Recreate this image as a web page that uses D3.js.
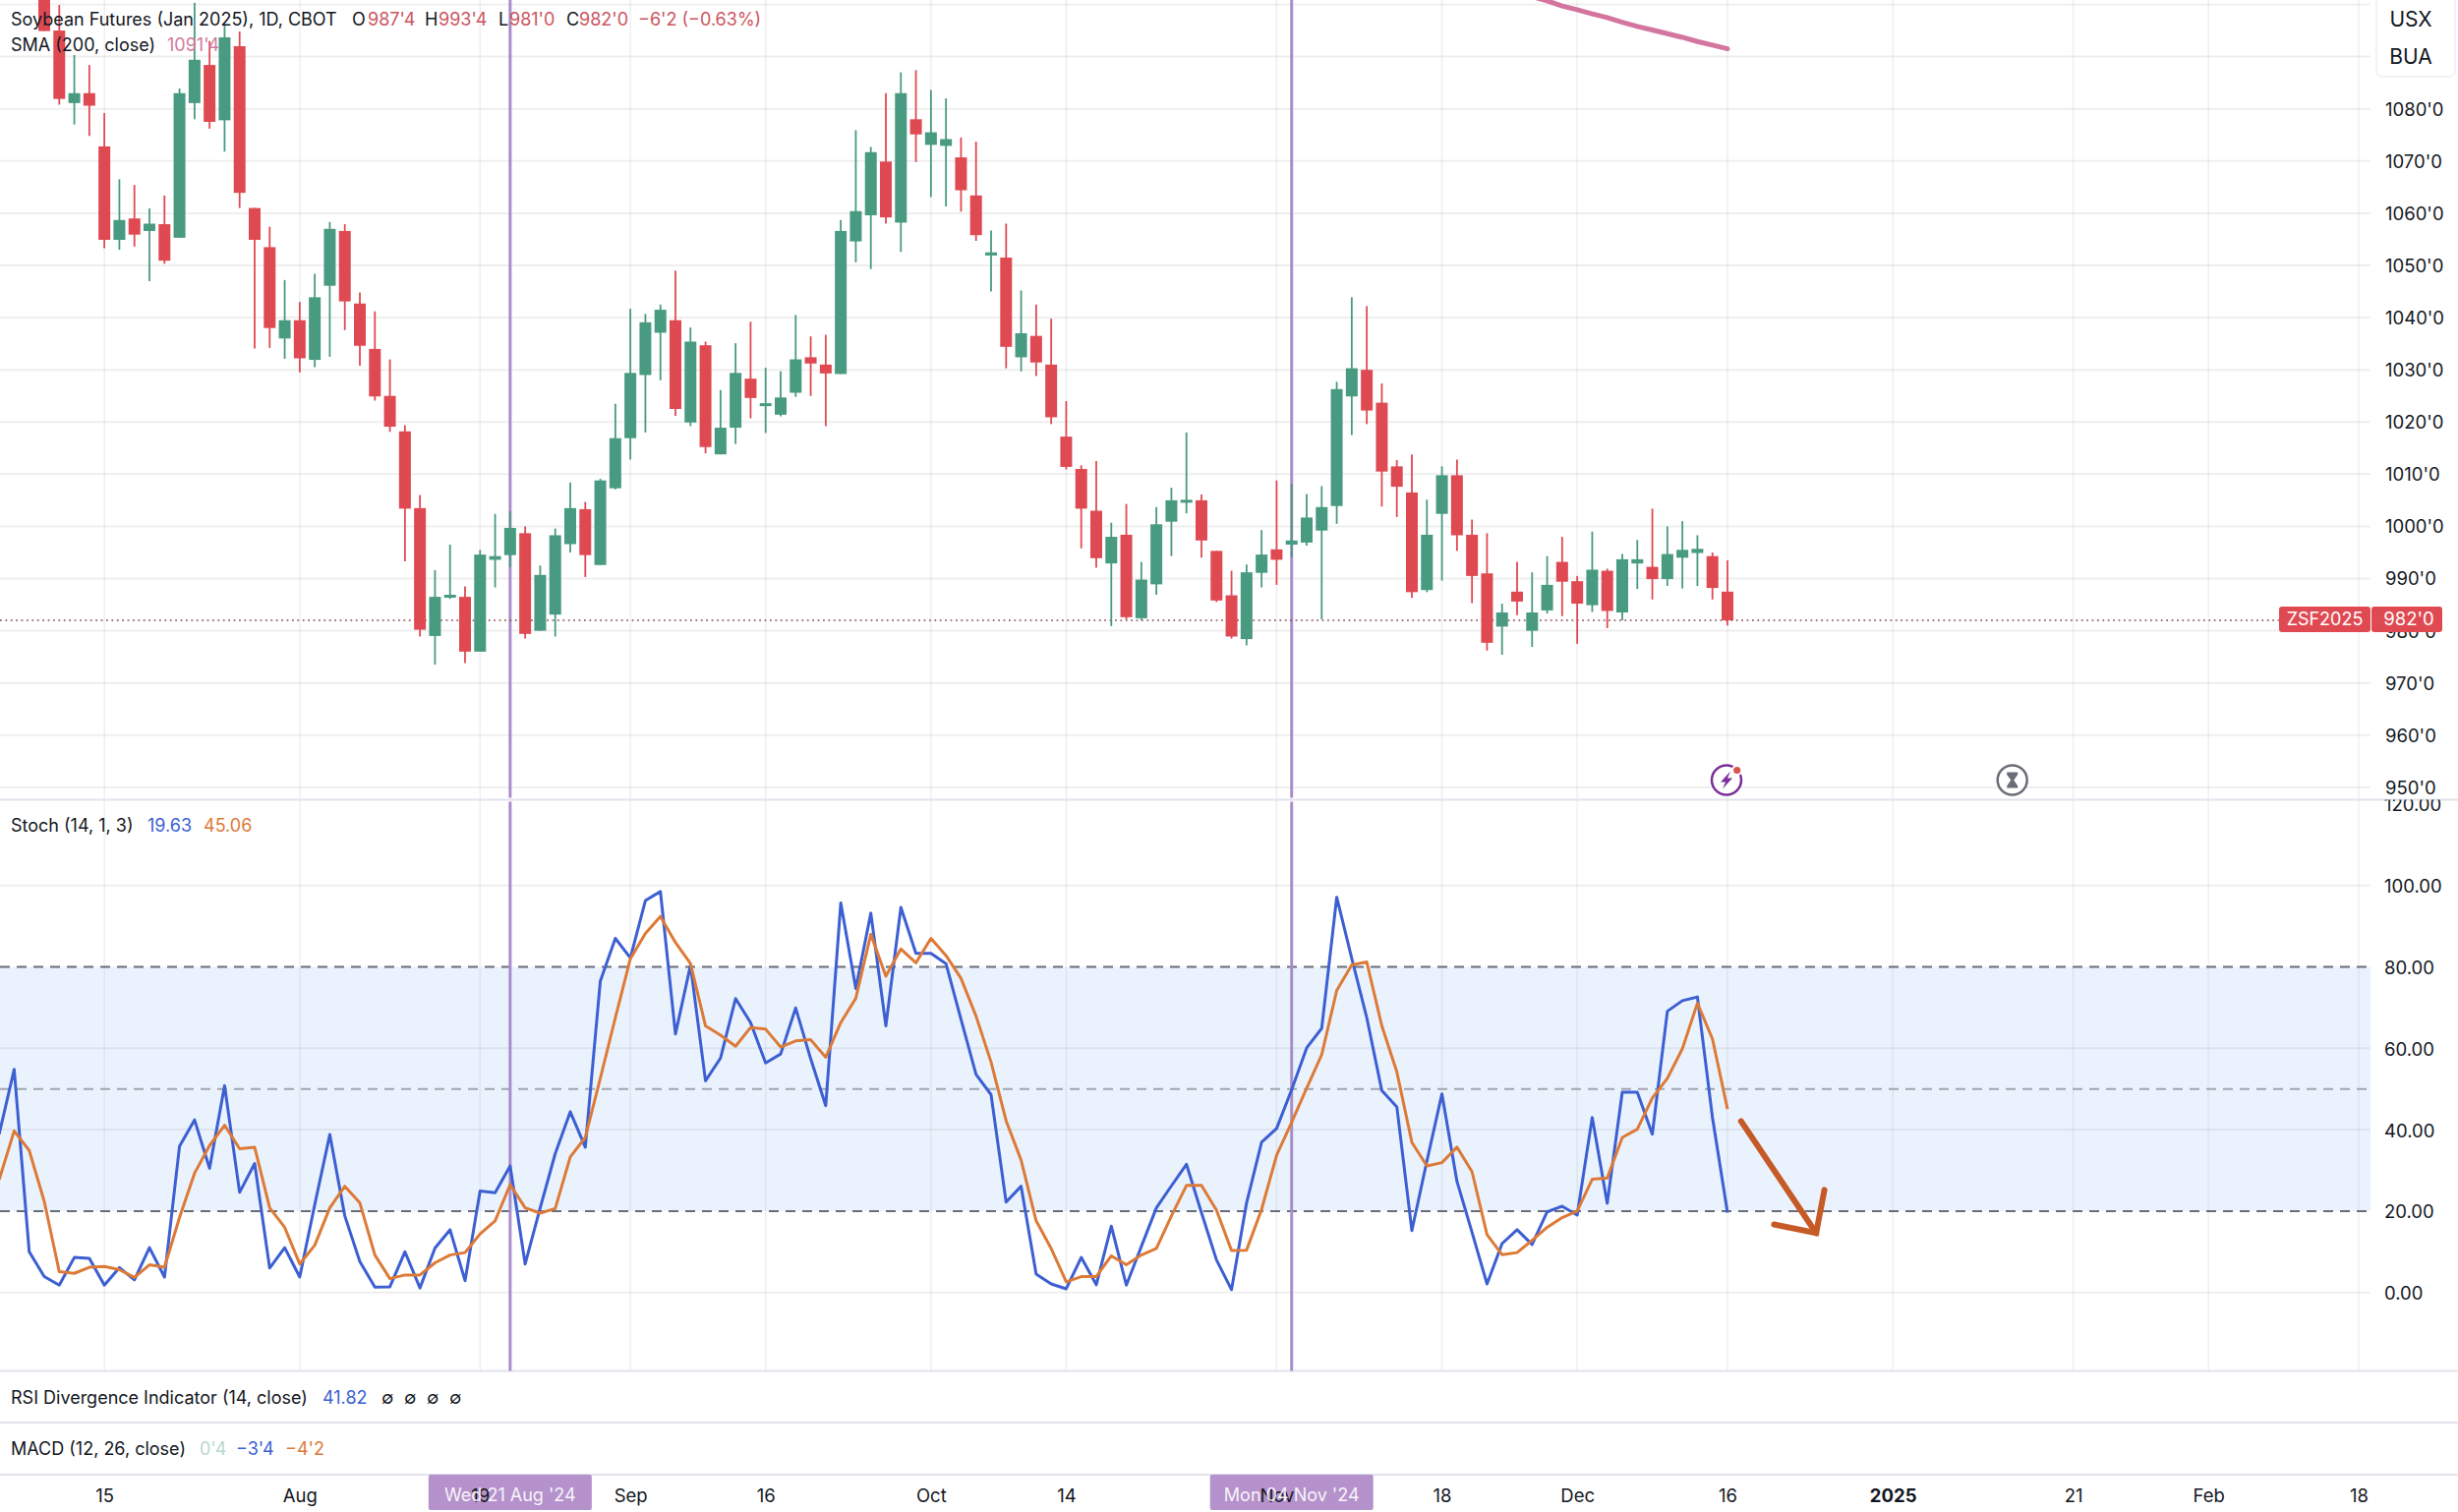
<!DOCTYPE html>
<html>
<head>
<meta charset="utf-8">
<script src="https://cdnjs.cloudflare.com/ajax/libs/d3/7.8.5/d3.min.js"></script>
<style>
html, body { margin: 0; padding: 0; background: #fff; }
svg { display: block; }
text { font-family: Inter, "Liberation Sans", sans-serif; }
</style>
</head>
<body>
<svg id="chart" width="2500" height="1538"></svg>
<script>
// daily candles, bar 0 is the first one showing on the left
var opens = [1103,1095,1081.1,1083,1072.8,1054.9,1059,1056.6,1057.9,1055.3,
1081.1,1088.4,1077.8,1092,1061,1053.5,1036,1039.5,1031.9,1046.1,
1056.6,1042.7,1034,1025,1018.2,1003.5,979,986.4,986.5,976,
993.6,994.5,998.7,980,983.1,996.6,1003.3,992.6,1007.3,1016.9,
1029,1037.1,1039.5,1019.9,1034.7,1013.8,1018.9,1028.3,1023.4,1021.4,
1025.6,1032.4,1031,1029.2,1054.6,1059.6,1069.9,1058.2,1078,1073.1,
1072.9,1070.7,1063.4,1051.9,1051.5,1032.4,1036.5,1031,1017.2,1011,
1003,992.9,998.4,982.4,988.9,1000.9,1004.9,1005,995.3,986.8,
978.4,991.1,995.6,996.5,996.9,999.2,1003.9,1024.9,1030,1023.7,
1011.5,1006.5,987.8,1002.4,1009.8,998.4,991,980.8,987.5,980,
983.9,993.2,989.5,984.9,991.5,983.5,992.9,992.25,989.9,994,
994.9,994.3,987.5];
var highs = [1106,1099.9,1090.3,1088.4,1079.2,1066.5,1065.4,1060.9,1063.4,1083.9,
1100.3,1093,1096.1,1094.8,1061,1057.4,1047.2,1043,1048.4,1058.3,
1057.9,1044.8,1041.2,1032,1019.4,1006,991.6,996.5,988.5,995.5,
1002.4,1002.9,1000,992.5,999.6,1008.4,1004.7,1009.1,1023.5,1041.7,
1040.7,1042.5,1049,1038.1,1035.4,1026.1,1035.1,1039.2,1030.4,1029.7,
1040.5,1036.4,1036.7,1058.7,1075.9,1072.7,1083,1087,1087.4,1083.6,
1082,1074.5,1073.7,1056.7,1058,1045.2,1042.5,1039.8,1024,1011.7,
1012.5,1000.7,1004.3,993.2,1003.7,1007.4,1018,1006.1,995.3,991.5,
992.7,999.3,1008.8,1008.1,1006.2,1007.7,1027.7,1043.9,1042.2,1027.4,
1012.7,1013.8,1005.1,1011.5,1012.8,1001.3,998.7,985.2,993.2,991.2,
994.3,998,990.5,999,991.9,994.7,997.4,1003.4,1000,1001,
998.3,995,993.5];
var lows = [1094.9,1080.8,1077,1074.8,1053.3,1053,1053.6,1047,1050.3,1055.3,
1078,1076.2,1071.8,1061,1034.1,1034.2,1032.1,1029.5,1030.5,1032.5,
1037.6,1030.8,1024.1,1018.1,993.3,978.9,973.5,986.1,973.8,976,
988.3,992.2,978.5,980,978.9,995,990.3,992.6,1007.1,1012.8,
1018,1028,1021.2,1019.2,1014,1013.8,1015.8,1020.7,1017.9,1021.1,
1024.8,1025,1019.2,1029.2,1050.6,1049.3,1058,1052.6,1069.8,1063.1,
1061.3,1060.3,1054.7,1045,1030.3,1029.7,1028.8,1019.6,1010.9,995.8,
992.1,980.9,982.2,982,986.9,994.3,1002.5,994,985.5,978.5,
977.2,988.3,988.8,994.1,996.3,982.2,1000.5,1017.5,1019.6,1003.8,
1001.8,986.3,987.4,989.6,995.3,985.3,976.2,975.4,983,976.9,
983.3,982.8,977.5,983.6,980.5,982,988,986,988.6,988.1,
988.6,986,981];
var closes = [1094.9,1081.9,1083,1080.6,1054.9,1058.7,1055.9,1058,1050.9,1083,
1089.4,1077.5,1093.7,1063.9,1054.9,1038,1039.5,1032.2,1043.9,1057,
1043.1,1034.6,1024.9,1019.1,1003.4,980.2,986.5,986.9,976,994.6,
994.3,999.7,979.4,990.7,998.3,1003.5,994.5,1008.8,1016.9,1029.4,
1039.1,1041.5,1022.5,1035.4,1015.2,1018.9,1029.4,1024.6,1023.6,1024.7,
1032,1031.2,1029.3,1056.6,1060.4,1071.7,1059.2,1083,1075.1,1075.5,
1074.2,1064.4,1055.8,1052.5,1034.4,1037,1031.4,1020.9,1011.4,1003.4,
993.9,998,982.6,989.8,1000.4,1005,1005.1,997.3,985.8,978.9,
991.2,994.6,993.6,997.3,1001.7,1003.7,1026.3,1030.3,1022.2,1010.5,
1007.6,987.4,998.4,1009.8,998.3,990.5,977.7,983.5,985.6,983.5,
988.8,989.4,985.2,991.7,983.8,993.7,993.7,989.9,994.7,995.5,
995.7,988.2,982];

// SMA 200, only the last bars reach into the window
var smaStart = 99;
var sma = [1101.5,1100.7,1099.7,1099,1098.2,1097.5,1096.6,1095.8,1095.1,1094.4,1093.7,1092.9,1092.2,1091.5];

// stochastic, these start 3 bars left of bar 0
var stochStart = -3;
var stochK = [38.9,54.8,10,3.9,1.8,8.6,8.4,1.8,6.1,3.1,11,3.8,
35.9,42.4,30.5,50.8,24.6,31.7,6,11,3.8,21.6,38.8,18.8,7.6,1.3,1.4,10,1.1,10.9,15.4,2.9,
24.9,24.5,31.1,7,20.8,34.1,44.4,35.7,76.5,87,82.2,96.3,98.5,63.5,80.4,52,57.6,72.2,66.3,56.4,
58.6,69.9,57.4,45.9,95.7,74.7,93.2,65.5,94.6,83.3,83.3,80.8,67.1,53.6,48.6,22.2,26.1,4.5,2.1,0.9,
8.6,1.9,16.3,1.8,11.3,20.8,26.2,31.5,19.6,8,0.7,22,36.9,40.3,49.8,60.1,64.9,97.1,82.1,67.5,
49.6,45.6,15.2,32.3,48.8,27.3,14.8,2.1,12,15.4,11.8,19.8,21.2,19,43,21.9,49.2,49.2,38.9,69.1,
71.7,72.6,43,19.63];
var stochD = [27.7,39.7,34.9,22.4,5.1,4.7,6.2,6.4,5.6,3.7,6.8,6.2,
18.4,29.3,36.1,41.1,35.3,35.7,20.8,16,7,11.6,20.8,26.1,22,9.2,3.4,4.3,4.3,7.3,9.2,9.8,
14.4,17.6,26.5,20.8,19.5,20.6,33.3,38.1,52.6,67.5,82,88.2,92.4,86,80.8,65.5,63.2,60.5,65.1,64.7,
60.3,61.8,62.1,57.8,66.3,72.3,88,77.7,84.4,81,87,82.8,77.2,67.9,56.6,42.2,32.5,17.6,10.8,2.6,
3.9,3.9,9,6.8,9.2,10.8,18.8,26.3,26.3,20.2,10.3,10.4,20.4,33.7,41.8,50.2,58.4,74.2,80.5,81.2,
65.5,54.2,36.9,31.1,31.9,35.7,29.7,14.2,9.3,9.8,12.8,16,18.4,20,27.8,28.1,38.1,40.1,47.8,52.6,
59.9,71.1,62.3,45.06];

var priceTicks = [950,960,970,980,990,1000,1010,1020,1030,1040,1050,1060,1070,1080];
var priceGrid = [950,960,970,980,990,1000,1010,1020,1030,1040,1050,1060,1070,1080,1090,1100];
var stochTicks = [0,20,40,60,80,100,120];
var lastPrice = 982;

var timeTicks = [4,17,29,39,48,59,68,82,93,102,112,123,135,144,154];
var timeLabels = ['15','Aug','19','Sep','16','Oct','14','Nov','18','Dec','16','2025','21','Feb','18'];
var markedBars = [31,83];
var markedLabels = ["Wed 21 Aug '24","Mon 04 Nov '24"];

// hand drawn arrow, bar index / stoch value
var arrowShaft = [[112.9,42.1],[117.9,14.6]];
var arrowHead = [[115.1,16.7],[117.9,14.6],[118.45,25.2]];

var green = '#489a81', red = '#df4a52', blue = '#3c5fd2', orange = '#dd7a38', purple = '#a98dca';
var axisRight = 2411;
var paneTop = 813.5, paneBottom = 1394.5;

var x = d3.scaleLinear().domain([0,112]).range([45,1757]);
var yPrice = d3.scaleLinear().domain([950,1080]).range([800.9,110.7]);
var yStoch = d3.scaleLinear().domain([0,100]).range([1314.7,900.7]);

var svg = d3.select('#chart');
var defs = svg.append('defs');
defs.append('clipPath').attr('id','pricePane').append('rect')
    .attr('width',2500).attr('height',paneTop);
defs.append('clipPath').attr('id','stochPane').append('rect')
    .attr('y',paneTop).attr('width',2500).attr('height',paneBottom-paneTop);

svg.append('rect').attr('width',2500).attr('height',1538).attr('fill','#fff');

// stoch band goes under the grid
svg.append('rect')
    .attr('x',0).attr('y',yStoch(80))
    .attr('width',axisRight).attr('height',yStoch(20)-yStoch(80))
    .attr('fill','#eaf3fd');

// grid
svg.selectAll('.vgrid').data(timeTicks).enter().append('line')
    .attr('x1',function(d){return x(d);}).attr('x2',function(d){return x(d);})
    .attr('y1',0).attr('y2',paneBottom)
    .attr('stroke','#787b86').attr('stroke-opacity',0.12).attr('stroke-width',1.5);
svg.selectAll('.pgrid').data(priceGrid).enter().append('line')
    .attr('x1',0).attr('x2',axisRight)
    .attr('y1',function(d){return yPrice(d);}).attr('y2',function(d){return yPrice(d);})
    .attr('stroke','#787b86').attr('stroke-opacity',0.12).attr('stroke-width',2);
svg.selectAll('.sgrid').data([0,40,60,100]).enter().append('line')
    .attr('x1',0).attr('x2',axisRight)
    .attr('y1',function(d){return yStoch(d);}).attr('y2',function(d){return yStoch(d);})
    .attr('stroke','#787b86').attr('stroke-opacity',0.12).attr('stroke-width',2);

// stoch levels
[[80,'#6a6d78'],[50,'#a2a5af'],[20,'#6a6d78']].forEach(function(l){
    svg.append('line')
        .attr('x1',0).attr('x2',axisRight)
        .attr('y1',yStoch(l[0])).attr('y2',yStoch(l[0]))
        .attr('stroke',l[1]).attr('stroke-width',2)
        .attr('stroke-dasharray','10 7');
});

// pane separators
[paneTop,paneBottom,1447,1500].forEach(function(b){
    svg.append('line').attr('x1',0).attr('x2',2500).attr('y1',b).attr('y2',b)
        .attr('stroke','#e0e3eb').attr('stroke-width',2);
});

// purple verticals
markedBars.forEach(function(b){
    svg.append('line').attr('x1',x(b)).attr('x2',x(b)).attr('y1',0).attr('y2',paneTop-2)
        .attr('stroke',purple).attr('stroke-width',3);
    svg.append('line').attr('x1',x(b)).attr('x2',x(b)).attr('y1',paneTop+2).attr('y2',paneBottom)
        .attr('stroke',purple).attr('stroke-width',3);
});

// last price dotted line
svg.append('line')
    .attr('x1',0).attr('x2',2318)
    .attr('y1',yPrice(lastPrice)).attr('y2',yPrice(lastPrice))
    .attr('stroke','#8a4a52').attr('stroke-width',1.6).attr('stroke-dasharray','1.8 3.6');

// candles
var bars = d3.range(opens.length);
var candles = svg.append('g').attr('clip-path','url(#pricePane)');
candles.selectAll('.wick').data(bars).enter().append('line')
    .attr('x1',function(i){return x(i);}).attr('x2',function(i){return x(i);})
    .attr('y1',function(i){return yPrice(highs[i]);})
    .attr('y2',function(i){return yPrice(lows[i]);})
    .attr('stroke',function(i){return closes[i]>=opens[i]?green:red;})
    .attr('stroke-width',1.8);
candles.selectAll('.body').data(bars).enter().append('rect')
    .attr('x',function(i){return x(i)-6;})
    .attr('width',12)
    .attr('y',function(i){return yPrice(Math.max(opens[i],closes[i]));})
    .attr('height',function(i){return Math.max(3,Math.abs(yPrice(opens[i])-yPrice(closes[i])));})
    .attr('fill',function(i){return closes[i]>=opens[i]?green:red;});

// sma
var smaLine = d3.line()
    .x(function(d,i){return x(smaStart+i);})
    .y(function(d){return yPrice(d);});
candles.append('path').datum(sma)
    .attr('d',smaLine)
    .attr('fill','none').attr('stroke','#d4759f').attr('stroke-width',5).attr('stroke-linecap','round');

// stoch lines
var stochLine = d3.line()
    .x(function(d,i){return x(stochStart+i);})
    .y(function(d){return yStoch(d);});
var stoch = svg.append('g').attr('clip-path','url(#stochPane)');
stoch.append('path').datum(stochK)
    .attr('d',stochLine).attr('fill','none')
    .attr('stroke',blue).attr('stroke-width',3).attr('stroke-linejoin','round');
stoch.append('path').datum(stochD)
    .attr('d',stochLine).attr('fill','none')
    .attr('stroke',orange).attr('stroke-width',3).attr('stroke-linejoin','round');

// arrow somebody drew on top of the screenshot
var arrowLine = d3.line()
    .x(function(d){return x(d[0]);})
    .y(function(d){return yStoch(d[1]);});
stoch.append('path').datum(arrowShaft).attr('d',arrowLine)
    .attr('fill','none').attr('stroke','#c65a27').attr('stroke-width',6).attr('stroke-linecap','round');
stoch.append('path').datum(arrowHead).attr('d',arrowLine)
    .attr('fill','none').attr('stroke','#c65a27').attr('stroke-width',6)
    .attr('stroke-linecap','round').attr('stroke-linejoin','miter');

// time label boxes sit under the dark tick labels
var boxes = svg.append('g');
markedBars.forEach(function(b){
    boxes.append('rect')
        .attr('x',x(b)-83).attr('y',1500).attr('width',166).attr('height',36).attr('rx',2)
        .attr('fill','#b592cb');
});

// axes
var fontSize = 18.5, legendSize = 18;
var timeAxis = d3.axisBottom(x)
    .tickValues(timeTicks)
    .tickSize(0)
    .tickPadding(0)
    .tickFormat(function(d,i){return timeLabels[i];});
var tg = svg.append('g').attr('transform','translate(0,1518.5)').call(timeAxis);
tg.select('.domain').remove();
tg.selectAll('text')
    .attr('font-family','Inter, sans-serif')
    .attr('font-size',fontSize).attr('fill','#131722').attr('dy','0.5em')
    .attr('font-weight',function(d,i){return timeLabels[i]=='2025'?700:400;});

markedBars.forEach(function(b,i){
    svg.append('text').attr('x',x(b)).attr('y',1520.5).attr('dy','0.35em')
        .attr('text-anchor','middle').attr('font-size',legendSize)
        .attr('fill','#fff').attr('fill-opacity',0.92).text(markedLabels[i]);
});

var priceAxis = d3.axisRight(yPrice)
    .tickValues(priceTicks)
    .tickSize(0)
    .tickPadding(15)
    .tickFormat(function(d){return d+"'0";});
var pg = svg.append('g').attr('transform','translate('+axisRight+',0.5)').call(priceAxis);
pg.select('.domain').remove();
pg.selectAll('text').attr('font-family','Inter, sans-serif').attr('font-size',fontSize).attr('fill','#131722');

var stochAxis = d3.axisRight(yStoch)
    .tickValues(stochTicks)
    .tickSize(0)
    .tickPadding(14)
    .tickFormat(d3.format('.2f'));
var sg = svg.append('g').attr('clip-path','url(#stochPane)')
    .append('g').attr('transform','translate('+axisRight+',1)').call(stochAxis);
sg.select('.domain').remove();
sg.selectAll('text').attr('font-family','Inter, sans-serif').attr('font-size',fontSize).attr('fill','#131722');

// currency / unit box
svg.append('rect').attr('x',2417).attr('y',-6).attr('width',80).attr('height',84).attr('rx',6)
    .attr('fill','#fff').attr('stroke','#eef0f3').attr('stroke-width',1.5);
svg.append('text').attr('x',2452).attr('y',20).attr('dy','0.35em').attr('text-anchor','middle')
    .attr('font-size',21).attr('fill','#131722').text('USX');
svg.append('text').attr('x',2452).attr('y',58).attr('dy','0.35em').attr('text-anchor','middle')
    .attr('font-size',21).attr('fill','#131722').text('BUA');

// last price tags
svg.append('rect').attr('x',2318).attr('y',617).attr('width',93).attr('height',26).attr('rx',3).attr('fill',red);
svg.append('rect').attr('x',2412).attr('y',617).attr('width',72).attr('height',26).attr('rx',3).attr('fill',red);
svg.append('text').attr('x',2364.5).attr('y',630).attr('dy','0.35em').attr('text-anchor','middle')
    .attr('font-size',18).attr('fill','#fff').text('ZSF2025');
svg.append('text').attr('x',2450).attr('y',630).attr('dy','0.35em').attr('text-anchor','middle')
    .attr('font-size',fontSize).attr('fill','#fff').text("982'0");

// legends, one row is [x, text, colour]
var ink = '#131722', legendRed = '#cc5560';
var legendRows = [
    [20,[[11,'Soybean Futures (Jan 2025), 1D, CBOT',ink],[358,'O',ink],[374,"987'4",legendRed],[432,'H',ink],[446,"993'4",legendRed],
        [507,'L',ink],[518,"981'0",legendRed],[576,'C',ink],[589,"982'0",legendRed],[649,"\u22126'2 (\u22120.63%)",legendRed]]],
    [45.5,[[11,'SMA (200, close)',ink],[170,"1091'4",'#d07aa0']]],
    [839.5,[[11,'Stoch (14, 1, 3)',ink],[150,'19.63',blue],[207,'45.06',orange]]],
    [1421.5,[[11,'RSI Divergence Indicator (14, close)',ink],[328,'41.82',blue],
        [388,'\u2205',ink],[411,'\u2205',ink],[434,'\u2205',ink],[457,'\u2205',ink]]],
    [1474,[[11,'MACD (12, 26, close)',ink],[203,"0'4",'#b7d8cf'],[240,"\u22123'4",blue],[290,"\u22124'2",orange]]]
];
legendRows.forEach(function(r){
    r[1].forEach(function(t){
        svg.append('text').attr('x',t[0]).attr('y',r[0]).attr('dy','0.35em')
            .attr('font-size',legendSize).attr('fill',t[2]).text(t[1]);
    });
});

// badges on the price pane
var bolt = svg.append('g').attr('transform','translate(1756,793.5)');
bolt.append('circle').attr('r',15).attr('fill','#fff').attr('stroke','#7b2f9b').attr('stroke-width',2.5);
bolt.append('path').attr('d','M4,-9 L-6,2 L-1,2 L-4,9 L6,-2 L1,-2 Z').attr('fill','#7b2f9b');
bolt.append('circle').attr('cx',10.7).attr('cy',-10).attr('r',5.5).attr('fill','#fff');
bolt.append('circle').attr('cx',10.7).attr('cy',-10).attr('r',3.6).attr('fill','#d9534f');

var hour = svg.append('g').attr('transform','translate(2046.7,793.5)');
hour.append('circle').attr('r',15).attr('fill','#fff').attr('stroke','#6a6d78').attr('stroke-width',2.5);
hour.append('path').attr('d','M-5.5,-8 H5.5 V-5.5 L1.5,0 L5.5,6 V8 H-5.5 V6 L-1.5,0 L-5.5,-5.5 Z').attr('fill','#6a6d78');
</script>
</body>
</html>
